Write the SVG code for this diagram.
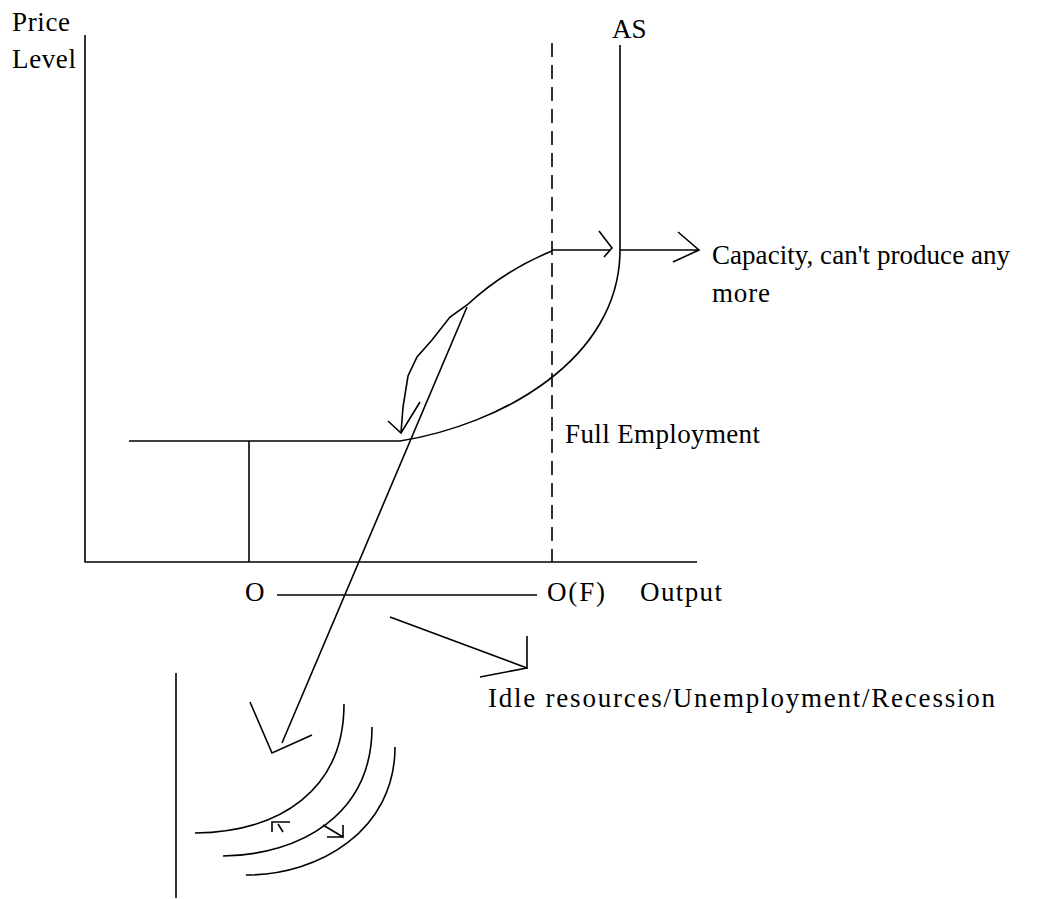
<svg xmlns="http://www.w3.org/2000/svg" width="1049" height="899" viewBox="0 0 1049 899">
<style>
.ln{fill:none;stroke:#000;stroke-width:1.6;stroke-linecap:butt;stroke-linejoin:miter}
.t{font-family:"Liberation Serif","Times New Roman",serif;font-size:27px;fill:#000}
</style>
<rect width="1049" height="899" fill="#fff"/>
<g id="axes">
<path class="ln" d="M85,35 V562 H697"/>
</g>
<g id="labels">
<text class="t" x="12" y="31" textLength="58">Price</text>
<text class="t" x="12" y="68" textLength="64">Level</text>
<text class="t" x="612" y="38">AS</text>
<text class="t" x="712" y="264" textLength="298">Capacity, can't produce any</text>
<text class="t" x="712" y="302" textLength="58">more</text>
<text class="t" x="565" y="443" textLength="195">Full Employment</text>
<text class="t" x="245" y="601" textLength="22">O</text>
<text class="t" x="547" y="601" textLength="58">O(F)</text>
<text class="t" x="640" y="601" textLength="82">Output</text>
<text class="t" x="488" y="707" textLength="507">Idle resources/Unemployment/Recession</text>
</g>
<g id="curves">
<path class="ln" d="M129,441 H400 C500,425 620,360 620,250 V45"/>
<path class="ln" d="M249,441 V562"/>
<path class="ln" d="M552,43 V562" stroke-dasharray="14 8"/>
<path class="ln" d="M552,251 Q505,270 467,305 L450,317 L432,340 L417,357 L408,376 L403,407 L401,433"/>
</g>
<g id="connectors">
<path class="ln" d="M552,250 H611 M599,231 L612,248 L604,257"/>
<path class="ln" d="M620,250 H699 M678,232 L699,250 L673,262"/>
<path class="ln" d="M388,421 L401,433 L420,402"/>
<path class="ln" d="M467,307 L282,743 M250,702 L272,753 L312,735"/>
<path class="ln" d="M277,595 H537"/>
<path class="ln" d="M390,617 L527,668 V636 M527,668 L480,677"/>
</g>
<g id="bottom">
<path class="ln" d="M176,673 V898"/>
<path class="ln" d="M344,704 C344,790 280,832 195,833"/>
<path class="ln" d="M372,727 C372,815 300,855 223,856"/>
<path class="ln" d="M395,747 C395,830 320,875 246,875"/>
<path class="ln" d="M272,832 V822 H290 M278,824 L283,832"/>
<path class="ln" d="M323,825 L343,837 V825 M343,837 H327"/>
</g>
</svg>
